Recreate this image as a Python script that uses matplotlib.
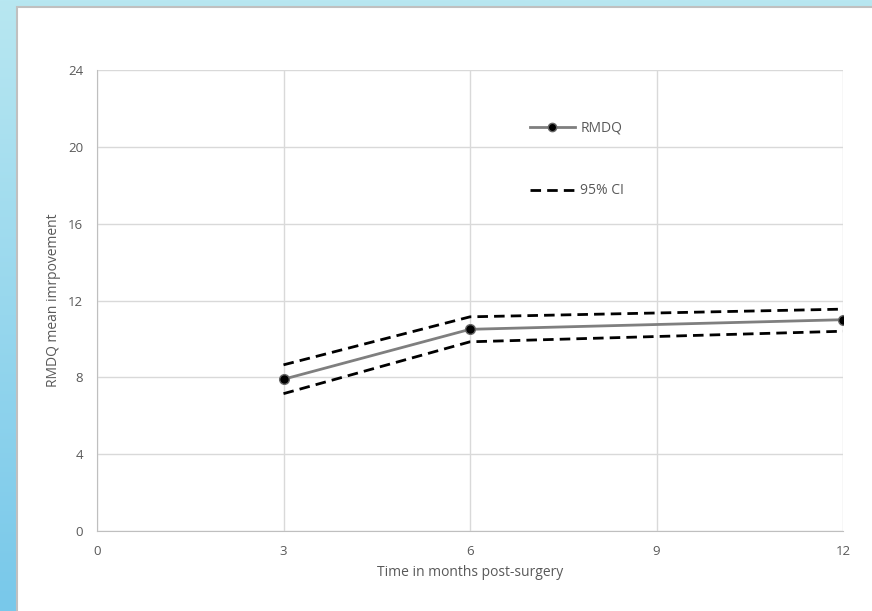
import matplotlib
matplotlib.use("Agg")
import matplotlib.pyplot as plt
import numpy as np
from matplotlib.lines import Line2D
from matplotlib.colors import LinearSegmentedColormap

months = [3, 6, 12]
rmdq = [7.9, 10.5, 11.0]
ci_upper = [8.65, 11.15, 11.55]
ci_lower = [7.15, 9.85, 10.4]
xticks = [0, 3, 6, 9, 12]
yticks = [0, 4, 8, 12, 16, 20, 24]

plt.rcParams['font.family'] = ['Open Sans', 'DejaVu Sans']

W, H = 872, 611
fig = plt.figure(figsize=(W / 100, H / 100), dpi=100)

# background gradient
bg = fig.add_axes([0, 0, 1, 1], zorder=-10)
grad = np.linspace(0, 1, 256).reshape(-1, 1)
cmap = LinearSegmentedColormap.from_list('bg', ['#b8e7f1', '#78c8ea'])
bg.imshow(grad, aspect='auto', cmap=cmap, extent=[0, 1, 0, 1], origin='upper')
bg.set_xlim(0, 1); bg.set_ylim(0, 1)
bg.add_patch(plt.Rectangle((17 / W, -0.01), 1, 1 - 7 / H + 0.01, facecolor='white',
                           edgecolor='#c0c0c0', linewidth=1.5))
bg.axis('off')

dash = (0, (3.8, 2.2))

ax = fig.add_axes([97 / W, 1 - 531 / H, (843 - 97) / W, (531 - 70) / H])
ax.set_facecolor('none')
ax.plot(months, ci_upper, color='black', lw=2, ls=dash, zorder=3)
ax.plot(months, ci_lower, color='black', lw=2, ls=dash, zorder=3)
ax.plot(months, rmdq, color='#7f7f7f', lw=2, marker='o', markersize=7,
        markerfacecolor='black', markeredgecolor='#666666', markeredgewidth=1, zorder=4)

ax.set_xlim(0, 12)
ax.set_ylim(0, 24)
ax.set_xticks(xticks)
ax.set_yticks(yticks)
ax.grid(True, color='#d9d9d9', lw=1)
ax.set_axisbelow(True)
for s in ['top', 'right']:
    ax.spines[s].set_visible(False)
for s in ['left', 'bottom']:
    ax.spines[s].set_color('#bfbfbf')
ax.tick_params(length=0, colors='#595959', labelsize=9.5, pad=10)
ax.tick_params(axis='x', pad=10)
ax.set_xlabel('Time in months post-surgery', color='#595959', fontsize=10, labelpad=5)
ax.set_ylabel('RMDQ mean imrpovement', color='#595959', fontsize=10, labelpad=5)

handles = [Line2D([0], [0], color='#7f7f7f', lw=2, marker='o', markersize=6,
                  markerfacecolor='black', markeredgecolor='#666666'),
           Line2D([0], [0], color='black', lw=2, ls=dash)]
leg = ax.legend(handles, ['RMDQ', '95% CI'], loc='upper left',
                bbox_to_anchor=((524 - 97) / (843 - 97), 1 - (115 - 70) / (531 - 70)),
                frameon=False, labelspacing=3.45, handlelength=3.3, handletextpad=0.35,
                fontsize=10, borderaxespad=0)
for t in leg.get_texts():
    t.set_color('#595959')

fig.savefig('out.png', dpi=100)
